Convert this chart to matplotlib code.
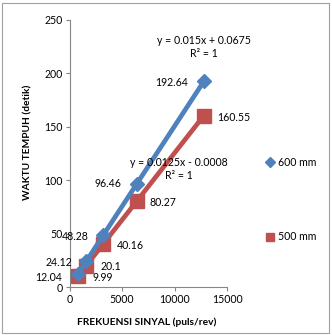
import matplotlib
matplotlib.use("Agg")
import matplotlib.pyplot as plt
from matplotlib.patches import Rectangle
from matplotlib.lines import Line2D

plt.rcParams['font.family'] = ['Lato', 'DejaVu Sans']

freq = [800, 1600, 3200, 6400, 12800]
t600 = [12.04, 24.12, 48.28, 96.46, 192.64]
t500 = [9.99, 20.1, 40.16, 80.27, 160.55]
labels600 = ["12.04", "24.12", "48.28", "96.46", "192.64"]
labels500 = ["9.99", "20.1", "40.16", "80.27", "160.55"]
eq600 = "y = 0.015x + 0.0675\nR² = 1"
eq500 = "y = 0.0125x - 0.0008\nR² = 1"
xticks = [0, 5000, 10000, 15000]
yticks = [0, 50, 100, 150, 200, 250]

blue = "#4F81BD"
red = "#C0504D"
fs = 7.6

W, H = 332, 335
fig = plt.figure(figsize=(W/100, H/100), dpi=100)
ax = fig.add_axes([69.5/W, 1-287/H, (227-69.5)/W, (287-20)/H])

ax.plot(freq, t600, color=blue, lw=3.4, marker='D', ms=7.5, mec=blue, mfc=blue, label='600 mm', zorder=3)
ax.plot(freq, t500, color=red, lw=3.4, marker='s', ms=9.5, mec=red, mfc=red, label='500 mm', zorder=2)

ax.set_xlim(0, 15000)
ax.set_ylim(0, 250)
ax.set_xticks(xticks)
ax.set_yticks(yticks)
for s in ['top', 'right']:
    ax.spines[s].set_visible(False)
for s in ['left', 'bottom']:
    ax.spines[s].set_color('#868686')
    ax.spines[s].set_linewidth(0.8)
ax.tick_params(axis='both', direction='out', length=3, width=0.8, color='#868686', labelsize=fs, pad=2)

# data labels (offsets in pixels)
off600 = [(-29, -3), (-27, -1), (-28, -1), (-29, 0), (-32, -1)]
off500 = [(25, -1), (25, -1), (27, -1), (26, -1), (30, -2)]
for x, y, l, o in zip(freq, t600, labels600, off600):
    ax.annotate(l, (x, y), xytext=o, textcoords='offset pixels', ha='center', va='center', fontsize=fs)
for x, y, l, o in zip(freq, t500, labels500, off500):
    ax.annotate(l, (x, y), xytext=o, textcoords='offset pixels', ha='center', va='center', fontsize=fs)

fig.text(204/W, 1-47/H, eq600, ha='center', va='center', fontsize=fs, linespacing=1.2)
fig.text(179/W, 1-169/H, eq500, ha='center', va='center', fontsize=fs, linespacing=1.2)

lblfont = dict(fontsize=7.3, fontweight='bold', family=['Liberation Sans Narrow', 'Lato', 'DejaVu Sans'])
ax.set_xlabel("FREKUENSI SINYAL (puls/rev)", **lblfont)
ax.set_ylabel("WAKTU TEMPUH (detik)", **lblfont)
ax.xaxis.set_label_coords(147/W, 1-322/H, transform=fig.transFigure)
ax.yaxis.set_label_coords(28/W, 1-142/H, transform=fig.transFigure)
ax.xaxis.label.set_va('center')
ax.yaxis.label.set_va('center')

# legend
fig.add_artist(Line2D([270/W], [1-162/H], marker='D', ms=5, color=blue, lw=0))
fig.text(278/W, 1-162/H, '600 mm', ha='left', va='center', fontsize=fs)
fig.add_artist(Line2D([270/W], [1-237/H], marker='s', ms=6, color=red, lw=0))
fig.text(278/W, 1-237/H, '500 mm', ha='left', va='center', fontsize=fs)

fig.add_artist(Rectangle((2/W, 2/H), (W-5)/W, (H-5)/H, transform=fig.transFigure,
                         fill=False, ec='#A0A0A0', lw=0.8))

fig.savefig("out.png", dpi=100)
